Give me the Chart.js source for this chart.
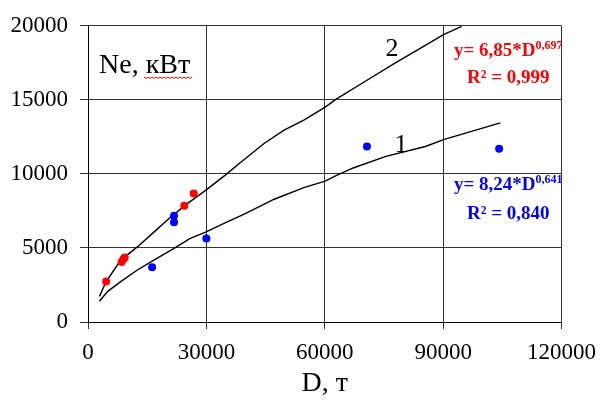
<!DOCTYPE html>
<html>
<head>
<meta charset="utf-8">
<script src="https://cdn.jsdelivr.net/npm/chart.js@4"></script>
<style>
html,body{margin:0;padding:0;background:#fff;}
#wrap{width:606px;height:400px;position:relative;}
</style>
</head>
<body>
<div id="wrap"><canvas id="c"></canvas></div>
<script>
// Trend curve 2
const curve2D = [2900, 4600, 8300, 12500, 16700, 20400, 25000, 29800, 34700, 38800, 44700, 49700, 54700, 60100, 63000, 70500, 78000, 83000, 90100, 94700];
const curve2N = [1730, 2730, 4180, 5070, 6070, 6950, 7960, 8890, 9900, 10800, 12070, 12960, 13630, 14510, 15070, 16290, 17510, 18290, 19400, 19960];
// Trend curve 1
const curve1D = [2900, 5000, 8300, 12500, 16700, 21700, 25800, 29800, 35000, 39600, 47200, 54700, 60100, 62600, 67200, 75500, 85500, 90300, 104500];
const curve1N = [1400, 2070, 2730, 3510, 4180, 4960, 5630, 6070, 6730, 7290, 8290, 9070, 9510, 9850, 10400, 11180, 11850, 12330, 13450];
// Red points (series 2)
const redD = [4600, 8500, 9000, 9300, 24400, 26800];
const redN = [2730, 4050, 4250, 4350, 7850, 8670];
// Blue points (series 1)
const blueD = [16250, 21800, 21800, 30000, 70700, 104200];
const blueN = [3690, 7180, 6730, 5630, 11850, 11690];
// Axis ticks
const xTicks = [0, 30000, 60000, 90000, 120000];
const yTicks = [0, 5000, 10000, 15000, 20000];

const zip = (a, b) => a.map((v, i) => ({x: v, y: b[i]}));
const SERIF = '"Liberation Serif", "Times New Roman", serif';

const annot = {
  id: 'annot',
  afterDatasetsDraw(chart) {
    const ctx = chart.ctx;
    ctx.save();
    ctx.textBaseline = 'alphabetic';
    ctx.textAlign = 'left';
    // Ne, кВт
    ctx.fillStyle = '#000';
    ctx.font = '28px ' + SERIF;
    ctx.fillText('Ne, кВт', 99, 73);
    // red wavy underline
    ctx.strokeStyle = '#ff0000';
    ctx.lineWidth = 1;
    ctx.beginPath();
    for (let x = 144, i = 0; x <= 193; x += 2, i++) {
      const y = 77 + (i % 2 === 0 ? 0 : 1.5);
      if (i === 0) ctx.moveTo(x, y); else ctx.lineTo(x, y);
    }
    ctx.stroke();
    // curve labels
    ctx.font = '26px ' + SERIF;
    ctx.textAlign = 'center';
    ctx.fillText('2', 392, 56);
    ctx.fillText('1', 401, 152);
    // equations
    ctx.textAlign = 'left';
    function eq(color, main, sup, x, y, r2, ry) {
      ctx.fillStyle = color;
      ctx.font = 'bold 19px ' + SERIF;
      ctx.fillText(main, x, y);
      const w = ctx.measureText(main).width;
      ctx.font = 'bold 12px ' + SERIF;
      ctx.fillText(sup, x + w, y - 7);
      ctx.font = 'bold 19px ' + SERIF;
      ctx.fillText(r2, 467, ry);
    }
    eq('#ff0000', 'y= 6,85*D', '0,697', 454, 56, 'R² = 0,999', 83);
    eq('#0000ff', 'y= 8,24*D', '0,641', 454, 190, 'R² = 0,840', 219);
    ctx.restore();
  }
};

new Chart(document.getElementById('c'), {
  type: 'scatter',
  data: {
    datasets: [
      {data: zip(curve2D, curve2N), showLine: true, borderColor: '#000', borderWidth: 1.4, pointRadius: 0, tension: 0, fill: false, order: 3},
      {data: zip(curve1D, curve1N), showLine: true, borderColor: '#000', borderWidth: 1.4, pointRadius: 0, tension: 0, fill: false, order: 3},
      {data: zip(redD, redN), backgroundColor: '#ff0000', borderColor: '#ff0000', pointRadius: 4, borderWidth: 0, order: 1},
      {data: zip(blueD, blueN), backgroundColor: '#0000ff', borderColor: '#0000ff', pointRadius: 4, borderWidth: 0, order: 1}
    ]
  },
  options: {
    responsive: true,
    maintainAspectRatio: false,
    animation: false,
    layout: {padding: {left: 0, right: 38, top: 23, bottom: 0}},
    plugins: {legend: {display: false}, tooltip: {enabled: false}},
    scales: {
      x: {
        type: 'linear', min: 0, max: 120000,
        afterBuildTicks: s => { s.ticks = xTicks.map(v => ({value: v})); },
        ticks: {color: '#000', font: {family: SERIF, size: 23}, padding: 10, maxRotation: 0, callback: v => String(v)},
        grid: {color: '#333', lineWidth: 1, tickLength: 7},
        border: {color: '#000', width: 1},
        title: {display: true, text: 'D, т', color: '#000', font: {family: SERIF, size: 28}, padding: {top: 0, bottom: 0}},
        afterFit: s => { s.height = 78; }
      },
      y: {
        type: 'linear', min: 0, max: 20000,
        afterBuildTicks: s => { s.ticks = yTicks.map(v => ({value: v})); },
        ticks: {color: '#000', font: {family: SERIF, size: 23}, padding: 12, callback: v => String(v)},
        grid: {color: '#333', lineWidth: 1, tickLength: 8},
        border: {color: '#000', width: 1},
        afterFit: s => { s.width = 88; }
      }
    }
  },
  plugins: [annot]
});
</script>
</body>
</html>
